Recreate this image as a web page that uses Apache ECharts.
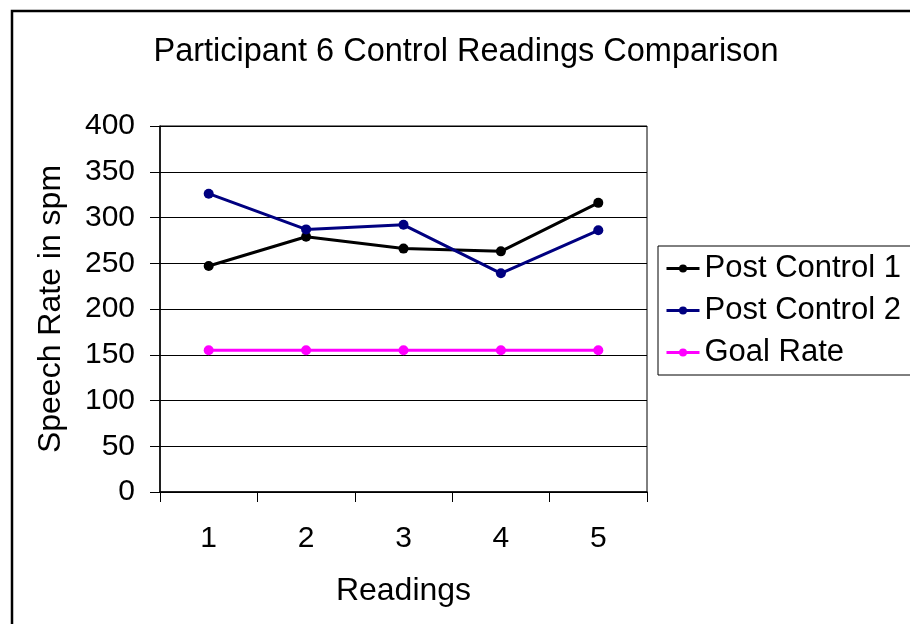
<!DOCTYPE html>
<html>
<head>
<meta charset="utf-8">
<script src="https://cdn.jsdelivr.net/npm/echarts@6/dist/echarts.min.js"></script>
<style>
html,body{margin:0;padding:0;background:#fff;}
#chart{width:910px;height:624px;}
</style>
</head>
<body>
<div id="chart"></div>
<script>
const categories = ['1', '2', '3', '4', '5'];
const postControl1 = [247, 279, 266, 263, 316];
const postControl2 = [326, 287, 292, 239, 286];
const goalRate = [155, 155, 155, 155, 155];
const yTicks = [0, 50, 100, 150, 200, 250, 300, 350, 400];

const FONT = '"Liberation Sans", Arial, sans-serif';
const chart = echarts.init(document.getElementById('chart'), null, {renderer: 'canvas'});

function lineSeries(name, data, color) {
  return {
    name: name,
    type: 'line',
    data: data,
    symbol: 'circle',
    symbolSize: 10,
    itemStyle: {color: color},
    lineStyle: {color: color, width: 3},
    emphasis: {disabled: true},
    animation: false
  };
}

chart.setOption({
  backgroundColor: '#ffffff',
  animation: false,
  textStyle: {fontFamily: FONT},
  title: {
    text: 'Participant 6 Control Readings Comparison',
    left: 461,
    top: 31,
    textAlign: 'center',
    textStyle: {fontFamily: FONT, fontSize: 32.5, fontWeight: 'normal', color: '#000'}
  },
  graphic: [{
    type: 'rect',
    shape: {x: 12, y: 11, width: 1000, height: 700},
    style: {fill: 'none', stroke: '#000', lineWidth: 2.5},
    silent: true,
    z: 100
  }],
  legend: {
    orient: 'vertical',
    left: 658,
    top: 246,
    padding: [7, 10, 7, 7],
    itemGap: 11,
    itemWidth: 33,
    itemHeight: 10,
    borderColor: '#000',
    borderWidth: 1,
    backgroundColor: '#fff',
    lineStyle: {width: 3},
    textStyle: {fontFamily: FONT, fontSize: 31, color: '#000'},
    data: ['Post Control 1', 'Post Control 2', 'Goal Rate']
  },
  grid: {
    left: 160,
    right: 263,
    top: 126,
    bottom: 132,
    show: true,
    borderColor: '#000',
    borderWidth: 1,
    backgroundColor: '#fff'
  },
  xAxis: {
    type: 'category',
    data: categories,
    boundaryGap: true,
    name: 'Readings',
    nameLocation: 'middle',
    nameGap: 83,
    nameTextStyle: {fontFamily: FONT, fontSize: 32, color: '#000'},
    axisLine: {lineStyle: {color: '#000', width: 1.5}},
    axisTick: {show: true, length: 10, lineStyle: {color: '#000'}},
    axisLabel: {fontFamily: FONT, fontSize: 30, color: '#000', margin: 32},
    splitLine: {show: false}
  },
  yAxis: {
    type: 'value',
    min: yTicks[0],
    max: yTicks[yTicks.length - 1],
    interval: 50,
    name: 'Speech Rate in spm',
    nameLocation: 'middle',
    nameGap: 93,
    nameTextStyle: {fontFamily: FONT, fontSize: 32, color: '#000'},
    axisLine: {show: true, lineStyle: {color: '#000', width: 1.5}},
    axisTick: {show: true, length: 10, lineStyle: {color: '#000'}},
    axisLabel: {fontFamily: FONT, fontSize: 30, color: '#000', margin: 25},
    splitLine: {show: true, lineStyle: {color: '#000', width: 1}}
  },
  series: [
    lineSeries('Post Control 1', postControl1, '#000000'),
    lineSeries('Post Control 2', postControl2, '#000080'),
    lineSeries('Goal Rate', goalRate, '#FF00FF')
  ]
});
</script>
</body>
</html>
